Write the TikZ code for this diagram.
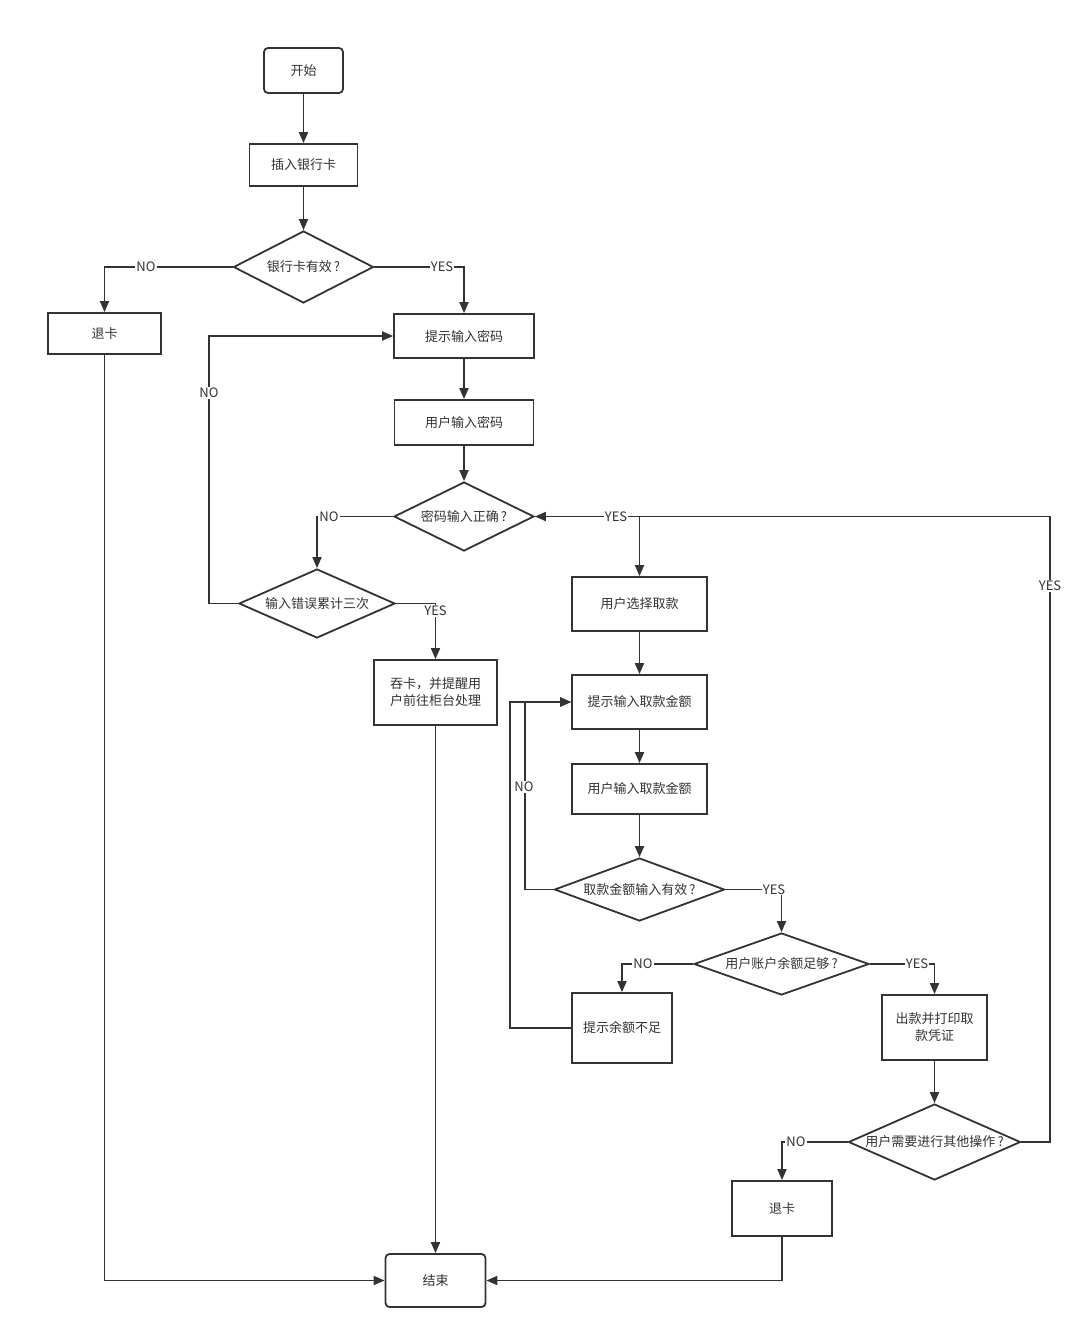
\documentclass[tikz,border=0pt]{standalone}
\usepackage{fontspec}
\setmainfont{Noto Sans CJK SC}
\usetikzlibrary{shapes.geometric,arrows.meta}
\definecolor{lc}{HTML}{333333}
\definecolor{tc}{HTML}{333333}
\begin{document}
\begin{tikzpicture}[x=1pt,y=-1pt,
  txt/.style={text=tc,font=\fontsize{13}{17}\selectfont},
  box/.style={draw=lc,line width=1.8pt,rectangle,inner sep=0pt,txt,align=center},
  rbox/.style={box,rounded corners=4pt},
  dia/.style={draw=lc,line width=1.8pt,diamond,inner sep=0pt},
  conn/.style={draw=lc,line width=1.8pt,-{Triangle[length=11pt,width=9pt]}},
  lab/.style={fill=white,inner sep=1pt,txt}]
\fill[white] (0,0) rectangle (1083,1339);
\useasboundingbox (0,0) rectangle (1083,1339);

% nodes
\node[rbox,minimum width=79pt,minimum height=45pt] (start) at (303.5,70.5) {开始};
\node[box,minimum width=108pt,minimum height=42pt] (insert) at (303.5,165) {插入银行卡};
\node[dia,minimum width=140pt,minimum height=72pt,label={[txt]center:银行卡有效\,?}] (d1) at (303.5,267) {};
\node[box,minimum width=113pt,minimum height=41pt] (ejectA) at (104.5,333.5) {退卡};
\node[box,minimum width=140pt,minimum height=44pt] (prompt) at (464,336) {提示输入密码};
\node[box,minimum width=139pt,minimum height=45pt] (enter) at (464,422.5) {用户输入密码};
\node[dia,minimum width=140pt,minimum height=69pt,label={[txt]center:密码输入正确\,?}] (d2) at (464,516.5) {};
\node[dia,minimum width=156pt,minimum height=69pt,label={[txt]center:输入错误累计三次}] (d3) at (317,603.5) {};
\node[box,minimum width=123pt,minimum height=65pt] (swallow) at (435.5,692.5) {吞卡，并提醒用\\户前往柜台处理};
\node[box,minimum width=135pt,minimum height=54pt] (choose) at (639.5,604) {用户选择取款};
\node[box,minimum width=135pt,minimum height=54pt] (pamt) at (639.5,702) {提示输入取款金额};
\node[box,minimum width=135pt,minimum height=50pt] (eamt) at (639.5,789) {用户输入取款金额};
\node[dia,minimum width=170pt,minimum height=63pt,label={[txt]center:取款金额输入有效\,?}] (d4) at (639.5,889.5) {};
\node[dia,minimum width=175pt,minimum height=62pt,label={[txt]center:用户账户余额足够\,?}] (d5) at (781.5,964) {};
\node[box,minimum width=100pt,minimum height=70pt] (insuf) at (622,1028) {提示余额不足};
\node[box,minimum width=105pt,minimum height=65pt] (cash) at (934.5,1027.5) {出款并打印取\\款凭证};
\node[dia,minimum width=172pt,minimum height=76pt,label={[txt]center:用户需要进行其他操作\,?}] (d6) at (934.5,1142) {};
\node[box,minimum width=100pt,minimum height=55pt] (ejectB) at (782,1208.5) {退卡};
\node[rbox,minimum width=100pt,minimum height=53pt] (end) at (435.5,1280.5) {结束};

\coordinate (xA) at (209,0);
\coordinate (xB) at (525,0);
\coordinate (xC) at (510,0);
\coordinate (xD) at (1050,0);

% connectors
\draw[conn] (start.south) -- (insert.north);
\draw[conn] (insert.south) -- (d1.north);
\draw[conn] (d1.west) -| (ejectA.north);
\draw[conn] (d1.east) -| (prompt.north);
\draw[conn] (prompt.south) -- (enter.north);
\draw[conn] (enter.south) -- (d2.north);
\draw[conn] (d2.west) -| (d3.north);
\draw[conn] (d3.west) -- (d3.west -| xA) |- (prompt.west);
\draw[conn] (d3.east) -| (swallow.north);
\draw[conn] (d2.east) -| (choose.north);
\draw[conn] (choose.south) -- (pamt.north);
\draw[conn] (pamt.south) -- (eamt.north);
\draw[conn] (eamt.south) -- (d4.north);
\draw[conn] (d4.west) -- (d4.west -| xB) |- (pamt.west);
\draw[conn] (insuf.west) -- (insuf.west -| xC) |- (pamt.west);
\draw[conn] (d4.east) -| (d5.north);
\draw[conn] (d5.west) -| (insuf.north);
\draw[conn] (d5.east) -| (cash.north);
\draw[conn] (cash.south) -- (d6.north);
\draw[conn] (d6.west) -| (ejectB.north);
\draw[conn] (d6.east) -- (d6.east -| xD) |- (d2.east);
\draw[conn] (ejectB.south) |- (end.east);
\draw[conn] (ejectA.south) |- (end.west);
\draw[conn] (swallow.south) -- (end.north);

% labels
\node[lab] (l1) at (146,267) {NO};
\node[lab] (l2) at (442,267) {YES};
\node[lab] (l3) at (209,393) {NO};
\node[lab] (l4) at (329,516.5) {NO};
\node[lab] (l5) at (616,516.5) {YES};
\node[lab] (l6) at (435.5,611) {YES};
\node[lab] (l7) at (1050,586) {YES};
\node[lab] (l8) at (524,787) {NO};
\node[lab] (l9) at (774,889.5) {YES};
\node[lab] (l10) at (643,964) {NO};
\node[lab] (l11) at (917,964) {YES};
\node[lab] (l12) at (796,1142) {NO};
\end{tikzpicture}
\end{document}
